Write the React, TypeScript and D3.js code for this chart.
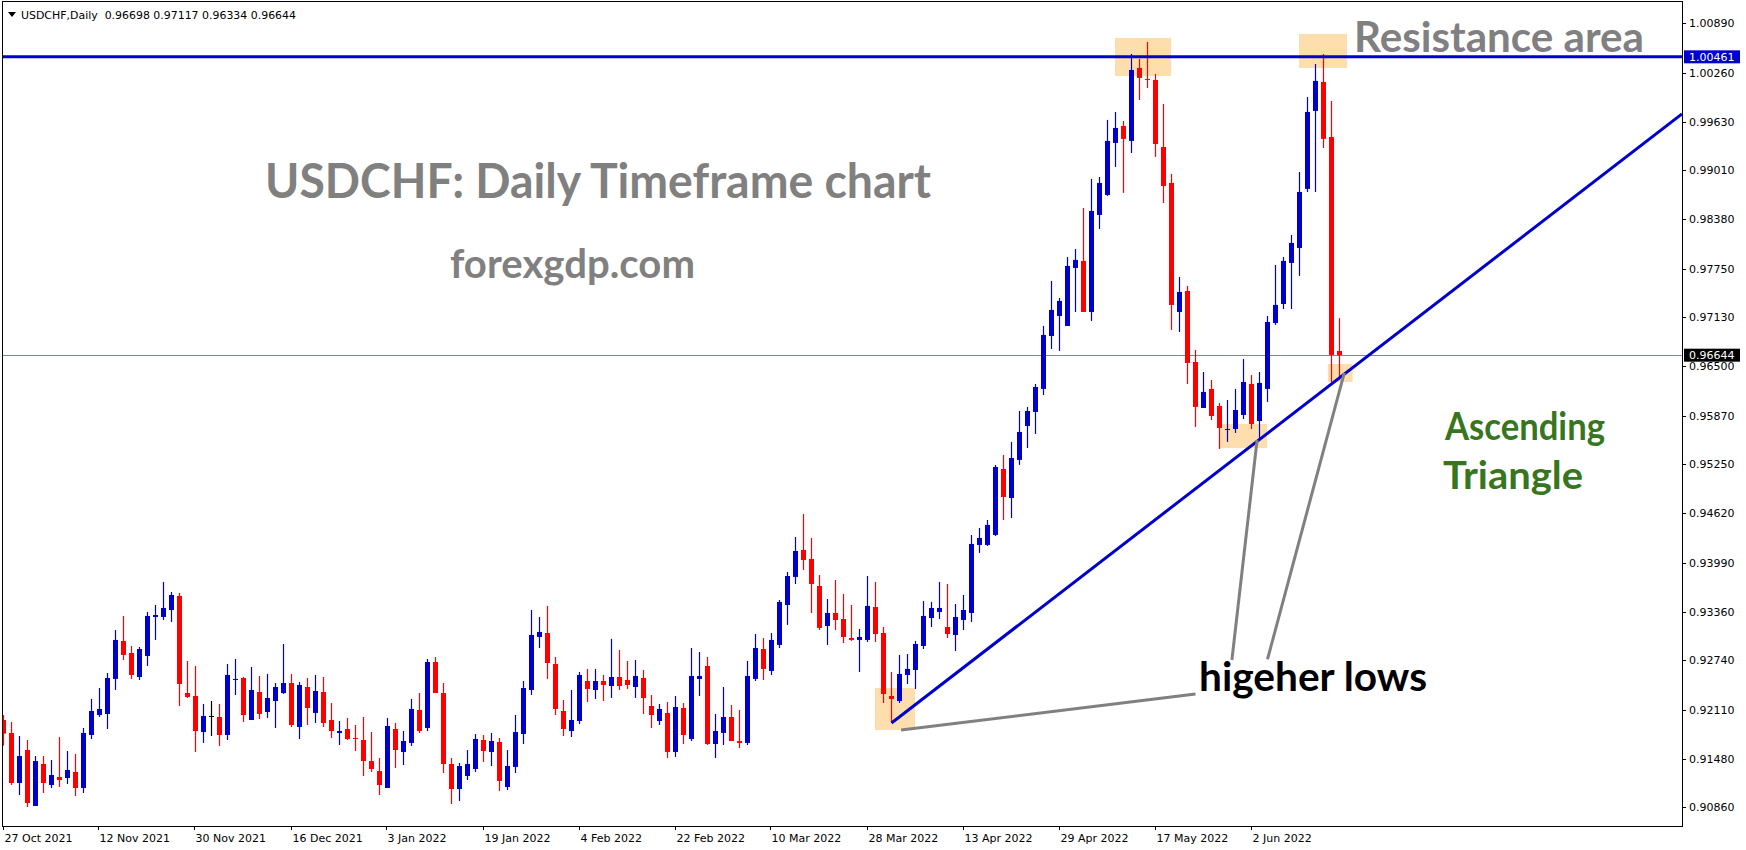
import React from 'react';
import * as d3 from 'd3';

// USDCHF daily candles, 27 Oct 2021 .. mid Jun 2022
const opens = [
  0.91977, 0.91811, 0.91171, 0.91593, 0.90877, 0.91414, 0.91145, 0.91248, 0.91235, 0.91312,
  0.91107, 0.91785, 0.92041, 0.92054, 0.92502, 0.92988, 0.92834, 0.92527, 0.92796, 0.93295,
  0.93295, 0.93384, 0.93564, 0.92322, 0.92284, 0.91823, 0.92028, 0.92015, 0.91785, 0.92489,
  0.92514, 0.91977, 0.92335, 0.92079, 0.92220, 0.92322, 0.92450, 0.91887, 0.92399, 0.92067,
  0.92335, 0.91977, 0.91811, 0.91862, 0.91747, 0.91721, 0.91452, 0.91324, 0.91107, 0.91862,
  0.91568, 0.91683, 0.92105, 0.91875, 0.92719, 0.92322, 0.91414, 0.91094, 0.91261, 0.91350,
  0.91721, 0.91568, 0.91696, 0.91120, 0.91376, 0.91798, 0.92361, 0.93039, 0.93090, 0.92693,
  0.92092, 0.91836, 0.91964, 0.92476, 0.92361, 0.92476, 0.92412, 0.92527, 0.92489, 0.92399,
  0.92514, 0.92156, 0.91964, 0.92067, 0.91568, 0.92131, 0.91734, 0.92502, 0.92668, 0.91670,
  0.91811, 0.92015, 0.91708, 0.91683, 0.92502, 0.92885, 0.92604, 0.92937, 0.93448, 0.93807,
  0.94152, 0.94037, 0.93691, 0.93180, 0.93346, 0.93269, 0.93026, 0.93001, 0.93001, 0.93423,
  0.93090, 0.92284, 0.92220, 0.92553, 0.92617, 0.92924, 0.93282, 0.93359, 0.93167, 0.93065,
  0.93256, 0.93346, 0.94216, 0.94216, 0.94344, 0.95188, 0.94817, 0.95304, 0.95739, 0.95918,
  0.96212, 0.96890, 0.97146, 0.97018, 0.97760, 0.97850, 0.97197, 0.98438, 0.98694, 0.99359,
  0.99577, 0.99385, 1.00319, 1.00178, 1.00165, 0.99308, 0.98848, 0.97197, 0.97466, 0.96557,
  0.95969, 0.96212, 0.95994, 0.95691, 0.95700, 0.95879, 0.96276, 0.95802, 0.96212, 0.97056,
  0.97299, 0.97824, 0.98016, 0.98771, 0.99769, 1.00140, 0.99436, 0.96698,
];
const highs = [
  0.92041, 0.91951, 0.91772, 0.91721, 0.91516, 0.91516, 0.91465, 0.91759, 0.91580, 0.91542,
  0.91875, 0.92246, 0.92386, 0.92578, 0.93128, 0.93308, 0.92924, 0.92911, 0.93359, 0.93448,
  0.93743, 0.93615, 0.93602, 0.92732, 0.92668, 0.92182, 0.92220, 0.92182, 0.92693, 0.92757,
  0.92527, 0.92655, 0.92540, 0.92566, 0.92450, 0.92949, 0.92566, 0.92463, 0.92514, 0.92553,
  0.92527, 0.92194, 0.91964, 0.92003, 0.91913, 0.92015, 0.91823, 0.91491, 0.92003, 0.91939,
  0.91836, 0.92246, 0.92322, 0.92757, 0.92783, 0.92450, 0.91491, 0.91427, 0.91593, 0.91798,
  0.91785, 0.91811, 0.91747, 0.91593, 0.92041, 0.92476, 0.93384, 0.93295, 0.93436, 0.92783,
  0.92233, 0.92361, 0.92591, 0.92630, 0.92630, 0.92553, 0.93015, 0.92873, 0.92732, 0.92745,
  0.92617, 0.92297, 0.92182, 0.92207, 0.92284, 0.92194, 0.92898, 0.92847, 0.92783, 0.92054,
  0.92399, 0.92169, 0.92105, 0.92732, 0.93077, 0.93026, 0.93090, 0.93512, 0.93871, 0.94318,
  0.94613, 0.94306, 0.93832, 0.93525, 0.93768, 0.93589, 0.93448, 0.93141, 0.93819, 0.93743,
  0.93167, 0.92591, 0.92809, 0.92821, 0.92988, 0.93500, 0.93487, 0.93743, 0.93717, 0.93461,
  0.93576, 0.94344, 0.94434, 0.94536, 0.95240, 0.95368, 0.95534, 0.95930, 0.95982, 0.96276,
  0.97018, 0.97594, 0.97376, 0.97901, 0.98003, 0.98528, 0.98899, 0.98924, 0.99654, 0.99756,
  0.99641, 1.00498, 1.00434, 1.00652, 1.00242, 0.99858, 0.98963, 0.97645, 0.97530, 0.96711,
  0.96429, 0.96327, 0.96033, 0.96071, 0.96212, 0.96596, 0.96391, 0.96429, 0.97146, 0.97798,
  0.97901, 0.98182, 0.98988, 0.99948, 1.00370, 1.00498, 0.99897, 0.97117,
];
const lows = [
  0.91649, 0.91145, 0.91017, 0.90864, 0.90877, 0.91043, 0.91107, 0.91120, 0.91158, 0.91005,
  0.91043, 0.91734, 0.92015, 0.91862, 0.92361, 0.92745, 0.92502, 0.92489, 0.92668, 0.93001,
  0.93256, 0.93231, 0.92156, 0.92258, 0.91568, 0.91683, 0.91772, 0.91644, 0.91721, 0.92297,
  0.91951, 0.91977, 0.91990, 0.92003, 0.91875, 0.92310, 0.91887, 0.91734, 0.91913, 0.91939,
  0.91887, 0.91747, 0.91657, 0.91721, 0.91580, 0.91261, 0.91312, 0.91017, 0.91107, 0.91363,
  0.91401, 0.91644, 0.91811, 0.91836, 0.92322, 0.91299, 0.90902, 0.90941, 0.91209, 0.91312,
  0.91440, 0.91388, 0.91069, 0.91081, 0.91299, 0.91670, 0.92297, 0.92898, 0.92502, 0.92041,
  0.91772, 0.91759, 0.91926, 0.92207, 0.92246, 0.92220, 0.92258, 0.92361, 0.92374, 0.92258,
  0.92054, 0.91875, 0.91913, 0.91491, 0.91504, 0.91670, 0.91708, 0.92284, 0.91657, 0.91491,
  0.91657, 0.91708, 0.91619, 0.91657, 0.92476, 0.92489, 0.92553, 0.92898, 0.93193, 0.93717,
  0.93896, 0.93346, 0.93128, 0.92937, 0.93128, 0.92962, 0.92988, 0.92591, 0.92975, 0.92975,
  0.92194, 0.91939, 0.92194, 0.92438, 0.92374, 0.92885, 0.93167, 0.93269, 0.93026, 0.92860,
  0.93128, 0.93231, 0.94114, 0.94203, 0.94331, 0.94536, 0.94561, 0.95240, 0.95457, 0.95636,
  0.96135, 0.96724, 0.96698, 0.97018, 0.97197, 0.97197, 0.97082, 0.98259, 0.98681, 0.99052,
  0.98720, 0.99231, 0.99909, 1.00063, 0.99180, 0.98591, 0.96967, 0.96941, 0.96276, 0.95726,
  0.95969, 0.95815, 0.95444, 0.95534, 0.95649, 0.95828, 0.95700, 0.95559, 0.96046, 0.97031,
  0.97235, 0.97235, 0.97658, 0.98732, 0.98732, 0.99295, 0.96301, 0.96334,
];
const closes = [
  0.91802, 0.91171, 0.91516, 0.90915, 0.91452, 0.91171, 0.91273, 0.91209, 0.91337, 0.91107,
  0.91811, 0.92092, 0.92118, 0.92514, 0.93001, 0.92809, 0.92553, 0.92885, 0.93308, 0.93320,
  0.93410, 0.93576, 0.92438, 0.92271, 0.91836, 0.92028, 0.92028, 0.91785, 0.92553, 0.92502,
  0.92041, 0.92361, 0.92054, 0.92258, 0.92399, 0.92450, 0.91913, 0.92425, 0.92131, 0.92348,
  0.91939, 0.91836, 0.91836, 0.91734, 0.91739, 0.91452, 0.91350, 0.91145, 0.91900, 0.91593,
  0.91708, 0.92118, 0.91836, 0.92719, 0.92322, 0.91414, 0.91094, 0.91388, 0.91414, 0.91734,
  0.91580, 0.91708, 0.91197, 0.91388, 0.91823, 0.92386, 0.93065, 0.93103, 0.92706, 0.92118,
  0.91862, 0.91977, 0.92553, 0.92374, 0.92476, 0.92425, 0.92527, 0.92412, 0.92425, 0.92540,
  0.92258, 0.92041, 0.92118, 0.91568, 0.92143, 0.91785, 0.92540, 0.92540, 0.91670, 0.91836,
  0.92015, 0.91708, 0.91683, 0.92540, 0.92898, 0.92630, 0.93001, 0.93487, 0.93819, 0.94139,
  0.94024, 0.93717, 0.93154, 0.93346, 0.93256, 0.93039, 0.93001, 0.93039, 0.93436, 0.93077,
  0.92310, 0.92246, 0.92566, 0.92630, 0.92949, 0.93308, 0.93410, 0.93410, 0.93077, 0.93295,
  0.93384, 0.94229, 0.94306, 0.94472, 0.95214, 0.94830, 0.95329, 0.95662, 0.95930, 0.96237,
  0.96903, 0.97223, 0.97338, 0.97786, 0.97863, 0.97197, 0.98489, 0.98848, 0.99385, 0.99551,
  0.99411, 1.00293, 1.00191, 1.00170, 0.99346, 0.98809, 0.97287, 0.97453, 0.96545, 0.95982,
  0.96174, 0.95866, 0.95713, 0.95700, 0.95943, 0.96301, 0.95764, 0.96289, 0.97069, 0.97287,
  0.97850, 0.98080, 0.98732, 0.99756, 1.00153, 0.99411, 0.96647, 0.96644,
];

// one date label every 12 bars
const dateLabels = [
  '27 Oct 2021', '12 Nov 2021', '30 Nov 2021', '16 Dec 2021', '3 Jan 2022', '19 Jan 2022',
  '4 Feb 2022', '22 Feb 2022', '10 Mar 2022', '28 Mar 2022', '13 Apr 2022', '29 Apr 2022',
  '17 May 2022', '2 Jun 2022',
];
const priceTicks = [
  1.0089, 1.0026, 0.9963, 0.9901, 0.9838, 0.9775, 0.9713, 0.965, 0.9587,
  0.9525, 0.9462, 0.9399, 0.9336, 0.9274, 0.9211, 0.9148, 0.9086,
];

const resistancePrice = 1.00461;
const bidPrice = 0.96644;

// ascending trend line anchors (bar index, price)
const trendBars = [111, 167];
const trendPrices = [0.91939, 0.96355];

// highlight rectangles
const boxBars = [[109, 114], [139, 146], [152, 158], [162, 168], [165.6, 168.7]];
const boxPrices = [
  [0.92386, 0.91849], [1.00703, 1.00216], [0.95764, 0.95457], [1.00754, 1.00319], [0.96532, 0.96301],
];

// grey pointer lines from the "higeher lows" label
const pointerBars = [[112.2, 149.0], [153.55, 156.7], [158.0, 167.6]];
const pointerPrices = [[0.91849, 0.9231], [0.92745, 0.95559], [0.92754, 0.96417]];

const W = 1746;
const H = 850;
const plotLeft = 2;
const plotTop = 2;
const plotRight = 1682;
const plotBottom = 826;

const BULL = '#0000cd';
const BEAR = '#ff0000';
const BOX = '#ffdead';
const axisFont = 'DejaVu Sans, Tahoma, sans-serif';
const noteFont = 'Lato, Calibri, sans-serif';

export default function App() {
  const x = d3.scaleLinear().domain([0, 167]).range([3.5, 3.5 + 8 * 167]);
  const y = d3.scaleLinear().domain([0.9086, 1.0089]).range([807.3, 23.3]);

  const slope = (trendPrices[1] - trendPrices[0]) / (trendBars[1] - trendBars[0]);
  const endBar = x.invert(plotRight);
  const trendEnd = trendPrices[0] + slope * (endBar - trendBars[0]);

  const candles = opens.map((o, i) => ({ o, h: highs[i], l: lows[i], c: closes[i], i }));

  return (
    <svg width={W} height={H} style={{ position: 'absolute', left: 0, top: 0, background: '#fff' }}>
      <defs>
        <clipPath id="plot">
          <rect x={plotLeft} y={plotTop} width={plotRight - plotLeft} height={plotBottom - plotTop} />
        </clipPath>
      </defs>
      <rect x={0} y={0} width={W} height={H} fill="#fff" />

      <g clipPath="url(#plot)">
        {boxBars.map((b, k) => (
          <rect
            key={'box' + k}
            x={x(b[0]) - 0.5}
            y={y(boxPrices[k][0])}
            width={x(b[1]) - x(b[0])}
            height={y(boxPrices[k][1]) - y(boxPrices[k][0])}
            fill={BOX}
          />
        ))}

        <line x1={plotLeft} x2={plotRight} y1={Math.round(y(bidPrice)) + 0.5} y2={Math.round(y(bidPrice)) + 0.5}
          stroke="#778899" strokeWidth={1} />

        {candles.map(d => {
          const cx = x(d.i);
          const color = d.c > d.o ? BULL : d.c < d.o ? BEAR : '#000';
          const top = y(Math.max(d.o, d.c));
          const bot = y(Math.min(d.o, d.c));
          return (
            <g key={d.i}>
              <line x1={cx} x2={cx} y1={y(d.h)} y2={y(d.l)} stroke={color} strokeWidth={1.2} />
              <rect x={cx - 2.5} y={top} width={5} height={Math.max(1, bot - top)} fill={color} />
            </g>
          );
        })}

        <line x1={plotLeft} x2={plotRight} y1={y(resistancePrice)} y2={y(resistancePrice)}
          stroke={BULL} strokeWidth={3} />
        <line x1={x(trendBars[0])} y1={y(trendPrices[0])} x2={x(endBar)} y2={y(trendEnd)}
          stroke={BULL} strokeWidth={3} />

        {pointerBars.map((b, k) => (
          <line key={'ptr' + k} x1={x(b[0])} y1={y(pointerPrices[k][0])} x2={x(b[1])} y2={y(pointerPrices[k][1])}
            stroke="#808080" strokeWidth={3} />
        ))}
      </g>

      {/* frame */}
      <rect x={plotLeft + 0.5} y={plotTop - 0.5} width={plotRight - plotLeft} height={plotBottom - plotTop + 1}
        fill="none" stroke="#000" strokeWidth={1} />

      {/* price axis */}
      {priceTicks.map(p => (
        <g key={p}>
          <line x1={plotRight} x2={plotRight + 4} y1={Math.round(y(p)) + 0.5} y2={Math.round(y(p)) + 0.5} stroke="#000" />
          <text x={plotRight + 7} y={y(p) + 4} fontFamily={axisFont} fontSize={11} fill="#000">{p.toFixed(5)}</text>
        </g>
      ))}
      <rect x={plotRight + 2} y={y(resistancePrice) - 6.5} width={56} height={13} fill={BULL} />
      <text x={plotRight + 7} y={y(resistancePrice) + 4} fontFamily={axisFont} fontSize={11} fill="#fff">
        {resistancePrice.toFixed(5)}
      </text>
      <rect x={plotRight + 2} y={y(bidPrice) - 6.5} width={56} height={13} fill="#000" />
      <text x={plotRight + 7} y={y(bidPrice) + 4} fontFamily={axisFont} fontSize={11} fill="#fff">
        {bidPrice.toFixed(5)}
      </text>

      {/* time axis */}
      {dateLabels.map((lab, k) => {
        const tx = Math.round(x(k * 12)) - 0.5;
        return (
          <g key={lab}>
            <line x1={tx} x2={tx} y1={plotBottom} y2={plotBottom + 4} stroke="#000" />
            <text x={tx + 1} y={842} fontFamily={axisFont} fontSize={11} fill="#000">{lab}</text>
          </g>
        );
      })}

      {/* header */}
      <path d="M8,12 L16,12 L12,17 Z" fill="#000" />
      <text x={21} y={19} fontFamily={axisFont} fontSize={11} fill="#000" style={{ whiteSpace: 'pre' }}
        textLength={275} lengthAdjust="spacingAndGlyphs">
        {'USDCHF,Daily  0.96698 0.97117 0.96334 0.96644'}
      </text>

      {/* annotations */}
      <text x={265} y={198} fontFamily={noteFont} fontWeight="bold" fontSize={48} fill="#808080"
        textLength={666} lengthAdjust="spacingAndGlyphs">USDCHF: Daily Timeframe chart</text>
      <text x={450} y={278} fontFamily={noteFont} fontWeight="bold" fontSize={41} fill="#808080"
        textLength={245} lengthAdjust="spacingAndGlyphs">forexgdp.com</text>
      <text x={1354} y={52} fontFamily={noteFont} fontWeight="bold" fontSize={42} fill="#808080"
        textLength={290} lengthAdjust="spacingAndGlyphs">Resistance area</text>
      <text x={1445} y={440} fontFamily={noteFont} fontWeight="bold" fontSize={39} fill="#38761d"
        textLength={160} lengthAdjust="spacingAndGlyphs">Ascending</text>
      <text x={1443} y={489} fontFamily={noteFont} fontWeight="bold" fontSize={39} fill="#38761d"
        textLength={140} lengthAdjust="spacingAndGlyphs">Triangle</text>
      <text x={1199} y={691} fontFamily={noteFont} fontWeight="bold" fontSize={41} fill="#000"
        textLength={228} lengthAdjust="spacingAndGlyphs">higeher lows</text>
    </svg>
  );
}
